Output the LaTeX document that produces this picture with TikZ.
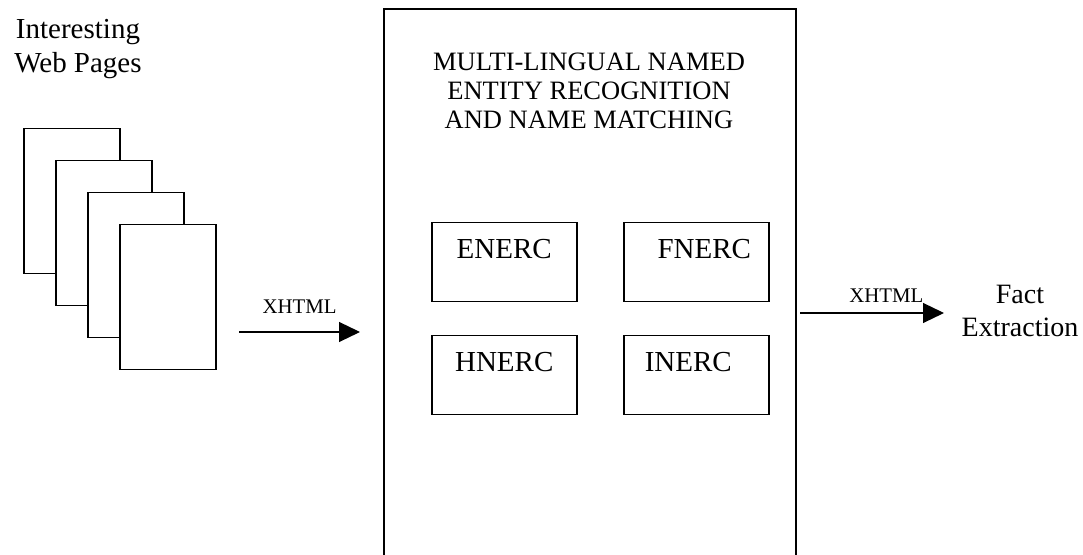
\documentclass[tikz,border=0pt]{standalone}
\usepackage{fontspec}
\setmainfont{Liberation Serif}
\usetikzlibrary{arrows.meta}
\tikzset{
  page/.style={draw, fill=white, line width=0.75pt, minimum width=48pt, minimum height=72.5pt, anchor=north west, inner sep=0},
  bigbox/.style={draw, line width=0.8pt, minimum width=206pt, minimum height=290pt, anchor=north west, inner sep=0},
  nerbox/.style={draw, line width=0.75pt, minimum width=72.5pt, text height=18pt, text depth=21.5pt, anchor=north west, inner sep=0, font=\fontsize{14.5}{17}\selectfont},
  flow/.style={-{Triangle[length=10.5pt,width=10pt]}, line width=0.6pt},
  lbl/.style={font=\fontsize{10.4}{12}\selectfont, inner sep=0}
}
\begin{document}
\begin{tikzpicture}[x=0.5pt, y=-0.5pt]
\useasboundingbox (0,0) rectangle (1083,555);
% source pages
\node[align=center, inner sep=0, font=\fontsize{14.5}{17}\selectfont] (src) at (78,48.7) {Interesting\\Web Pages};
\foreach \i in {0,...,3}
  \node[page] (p\i) at ({23+32*\i},{128+32*\i}) {};
% recognition block
\node[bigbox] (ner) at (383,8) {};
\node[align=center, inner sep=0, font=\fontsize{13.25}{14.5}\selectfont] (title) at (589,90.5) {MULTI-LINGUAL NAMED\\ENTITY RECOGNITION\\AND NAME MATCHING};
\node[nerbox] (enerc) at (431,222) {ENERC};
\node[nerbox] (fnerc) at (623,222) {\kern8pt FNERC};
\node[nerbox] (hnerc) at (431,335) {HNERC};
\node[nerbox] (inerc) at (623,335) {INERC\kern8pt};
% output
\node[align=center, inner sep=0, font=\fontsize{14}{16.5}\selectfont] (fact) at (1020,310.5) {Fact\\Extraction};
% flows
\coordinate (in1) at (239,332);
\coordinate (in2) at (360,332);
\coordinate (out1) at (800,313);
\coordinate (out2) at (944,313);
\draw[flow] (in1) -- (in2) node[lbl, midway, above=9pt] {XHTML};
\draw[flow] (out1) -- (out2) node[lbl, pos=0.6, above=5pt] {XHTML};
\end{tikzpicture}
\end{document}
